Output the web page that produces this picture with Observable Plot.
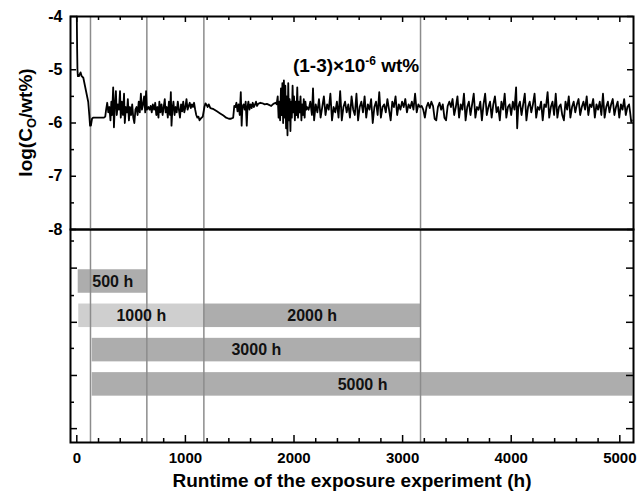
<!DOCTYPE html>
<html><head><meta charset="utf-8">
<script src="https://cdn.jsdelivr.net/npm/d3@7"></script>
<script src="https://cdn.jsdelivr.net/npm/@observablehq/plot@0.6"></script>
<style>
body{margin:0;background:#fff;}
#chart{position:relative;width:638px;height:494px;}
#chart svg{position:absolute;left:0;overflow:visible;}
</style>
</head><body><div id="chart"></div>
<script>
// log(C_O / wt%) readings: [runtime h, value]
const oxygenReadings = [
[0,-4.0],[3,-4.6],[6,-5.0],[10,-5.12],[20,-5.12],[35,-5.05],[45,-5.12],[60,-5.15],[75,-5.3],[90,-5.45],[105,-5.6],[115,-5.85],[122,-6.05],[130,-6.05],[140,-5.92],[150,-5.9],[200,-5.9],[250,-5.9],[262,-5.88],
[270,-5.75],[280,-5.62],[290,-5.8],[300,-5.7],[310,-5.95],[318,-5.6],[325,-5.85],[335,-5.33],[342,-6.08],[350,-5.7],[360,-5.4],[368,-5.85],[378,-5.65],[388,-5.75],[398,-5.4],[405,-5.9],[415,-5.6],[425,-5.85],[435,-5.45],[442,-6.0],[452,-5.7],[462,-5.8],[470,-5.55],[480,-5.95],[490,-5.7],[500,-5.85],[510,-5.65],[520,-5.9],[530,-6.0],[540,-5.75],[550,-5.7],[560,-5.85],[570,-5.6],[580,-5.8],[590,-5.45],[600,-5.75],[610,-5.65],[620,-5.5],[630,-5.8],[638,-5.4],[645,-5.75],
[660,-5.7],[670,-5.75],[680,-5.68],[690,-5.8],[700,-5.65],[712,-5.75],[722,-5.62],[732,-5.85],[742,-5.7],[752,-5.9],[760,-5.6],[770,-5.8],[780,-5.65],[790,-5.85],[800,-5.7],[810,-5.55],[818,-5.8],[828,-5.7],[838,-5.9],[848,-5.6],[858,-5.85],[866,-5.42],[872,-6.05],[880,-5.75],[890,-5.6],[900,-5.85],[910,-5.7],[920,-5.8],[930,-5.6],[940,-5.75],[950,-5.9],[960,-5.65],[970,-5.78],[980,-5.6],[990,-5.8],[1000,-5.7],[1010,-5.55],[1020,-5.75],[1030,-5.68],[1040,-5.62],[1050,-5.72],[1060,-5.65],[1070,-5.7],[1080,-5.62],[1090,-5.75],[1100,-5.85],[1110,-5.9],[1120,-5.88],[1130,-5.95],[1140,-5.92],[1150,-5.9],[1160,-5.88],
[1175,-5.7],[1185,-5.63],[1195,-5.66],[1205,-5.7],[1215,-5.65],[1230,-5.72],[1260,-5.74],[1290,-5.78],[1320,-5.82],[1350,-5.86],[1375,-5.9],[1400,-5.92],[1420,-5.92],[1440,-5.9],[1450,-5.68],[1460,-5.7],[1470,-5.62],[1480,-5.78],[1490,-5.65],[1500,-5.85],[1510,-5.42],[1518,-6.05],[1525,-5.7],[1535,-5.65],[1545,-5.75],[1555,-5.6],[1565,-6.05],[1572,-5.7],[1580,-5.6],[1590,-5.75],[1600,-5.65],[1610,-5.72],[1620,-5.62],[1630,-5.7],[1640,-5.66],[1650,-5.6],[1660,-5.68],[1670,-5.64],
[1690,-5.62],[1710,-5.63],[1730,-5.65],[1750,-5.64],[1770,-5.66],[1790,-5.68],[1810,-5.64],[1830,-5.62],[1840,-5.65],
[1850,-5.5],[1858,-5.9],[1865,-5.6],[1872,-5.95],[1880,-5.35],[1887,-5.85],[1893,-5.25],[1900,-6.0],[1907,-5.2],[1914,-5.9],[1920,-5.3],[1927,-6.1],[1933,-5.5],[1940,-6.23],[1947,-5.25],[1953,-5.95],[1960,-5.55],[1967,-6.15],[1973,-5.6],[1980,-5.9],[1987,-5.3],[1993,-5.8],[2000,-5.5],[2008,-5.95],[2015,-5.6],[2022,-5.85],[2030,-5.33],[2037,-5.9],[2045,-5.6],[2052,-5.8],[2060,-5.5],[2068,-5.95],[2075,-5.65],[2083,-5.85],[2090,-5.55],[2098,-5.9],[2105,-5.6],[2113,-5.75],[2120,-5.7],
[2135,-5.75],[2150,-5.6],[2165,-5.85],[2175,-5.35],[2185,-5.95],[2200,-5.65],[2215,-5.8],[2230,-5.55],[2245,-5.9],[2260,-5.7],[2275,-5.5],[2290,-5.85],[2305,-5.65],[2320,-5.75],[2335,-5.45],[2350,-5.95],[2365,-5.7],[2380,-5.8],[2395,-5.6],[2410,-5.9],[2425,-5.4],[2440,-5.95],[2455,-5.7],[2470,-5.6],[2485,-5.8],[2500,-5.65],[2515,-5.9],[2530,-5.5],[2545,-5.75],[2560,-5.85],[2575,-5.45],[2590,-5.95],[2605,-5.7],[2620,-5.6],[2635,-5.8],[2650,-5.5],[2665,-5.9],[2680,-5.65],[2695,-5.75],[2710,-5.55],[2725,-6.0],[2740,-5.7],[2755,-5.6],[2770,-5.85],[2785,-5.42],[2800,-5.9],[2815,-5.7],[2830,-5.65],[2845,-5.8],[2860,-5.55],[2875,-5.75],[2890,-5.95],[2905,-5.6],[2920,-5.7],[2935,-5.5],[2950,-5.85],[2965,-5.65],[2980,-5.75],[2995,-5.6],[3010,-5.7],[3025,-5.55],[3040,-5.8],[3055,-5.65],[3070,-5.72],[3085,-5.6],[3100,-5.75],[3115,-5.45],[3130,-5.8],[3145,-5.65],[3160,-5.7],
[3175,-5.68],[3190,-5.75],[3205,-5.9],[3220,-5.7],[3235,-5.62],[3250,-5.72],[3265,-5.6],[3280,-5.68],[3295,-5.92],[3310,-5.95],[3325,-5.7],[3340,-5.62],[3355,-5.75],[3370,-5.65],[3385,-5.9],[3400,-5.95],[3415,-5.68],[3430,-5.6],[3445,-5.7],[3460,-5.55],[3475,-5.85],[3490,-5.7],
[3505,-5.5],[3520,-5.9],[3535,-5.65],[3550,-5.75],[3565,-5.45],[3580,-5.95],[3595,-5.7],[3610,-5.6],[3625,-5.85],[3640,-5.65],[3655,-5.45],[3670,-5.9],[3685,-5.7],[3700,-5.75],[3715,-5.6],[3730,-5.95],[3745,-5.65],[3760,-5.45],[3775,-5.85],[3790,-5.7],[3805,-5.6],[3820,-5.9],[3835,-5.65],[3850,-5.5],[3865,-5.8],[3880,-5.7],[3895,-5.95],[3910,-5.6],[3925,-5.75],[3940,-5.45],[3955,-5.9],[3970,-5.7],[3985,-5.65],[4000,-5.85],[4015,-5.6],[4030,-5.75],[4045,-5.33],[4055,-6.1],[4065,-5.7],[4080,-5.6],[4095,-5.85],[4110,-5.65],[4125,-5.45],[4140,-5.95],[4155,-5.7],[4170,-5.6],[4185,-5.8],[4200,-5.65],[4215,-5.45],[4230,-5.9],[4245,-5.7],[4260,-5.75],[4275,-5.6],[4290,-5.95],[4305,-5.65],[4320,-5.7],[4335,-5.42],[4350,-5.9],[4365,-5.7],
[4380,-5.6],[4395,-5.85],[4410,-5.45],[4425,-5.9],[4440,-5.7],[4455,-5.65],[4470,-5.85],[4485,-5.95],[4500,-5.6],[4515,-5.75],[4530,-5.5],[4545,-5.9],[4560,-5.7],[4575,-5.6],[4590,-5.8],[4605,-5.65],[4620,-5.55],[4635,-5.85],[4650,-5.7],[4665,-5.6],[4680,-5.75],[4695,-5.5],[4710,-5.85],[4725,-5.65],[4740,-5.7],[4755,-5.55],[4770,-5.9],[4785,-5.65],[4800,-5.75],[4815,-5.6],[4830,-5.85],[4845,-5.45],[4860,-5.9],[4875,-5.7],[4890,-5.6],[4905,-5.8],[4920,-5.65],[4935,-5.55],[4950,-5.85],[4965,-5.7],[4980,-5.6],[4995,-5.9],[5010,-5.65],[5025,-5.75],[5040,-5.55],[5055,-5.85],[5070,-5.7],[5085,-5.65],[5095,-5.8],[5105,-5.98],[5110,-5.95]
];
const sessionBoundaries = [126, 645, 1170, 3165];
const experiments = [
  {label: "500 h", start: 13, end: 648, row: 1},
  {label: "1000 h", start: 18, end: 1170, row: 2},
  {label: "2000 h", start: 1170, end: 3165, row: 2},
  {label: "3000 h", start: 142, end: 3165, row: 3},
  {label: "5000 h", start: 142, end: 5120, row: 4}
];
const barLabels = experiments.map(d => d.label);
const xMajorTicks = [0, 1000, 2000, 3000, 4000, 5000];
const xMinorTicks = [200,400,600,800,1200,1400,1600,1800,2200,2400,2600,2800,3200,3400,3600,3800,4200,4400,4600,4800];
const yMajorTicks = [-4, -5, -6, -7, -8];
const yMinorTicks = [-4.5, -5.5, -6.5, -7.5];
const lowerMajorTicks = [0.61, 2.19, 3.74, 5.29];
const lowerMinorTicks = [-0.18, 1.41, 2.95, 4.52];
const xLabel = "Runtime of the exposure experiment (h)";
const annotation = {x: 1995, y: -5.05, main: "(1-3)×10", sup: "-6", tail: " wt%"};

const FONT = "'Liberation Sans', Arial, sans-serif";
const W = 638, ML = 70, MR = 5;
const FW = W - ML - MR;
const xDomain = [-58, 5126];
const grayLine = "#8c8c8c";
const baseStyle = {fontFamily: FONT, fontWeight: "bold", fontSize: "15px", color: "#000", background: "transparent", overflow: "visible"};

const topH = 230, topMT = 16, topMB = 1;
const topFH = topH - topMT - topMB;
const topPlot = Plot.plot({
  width: W, height: topH, marginTop: topMT, marginBottom: topMB, marginLeft: ML, marginRight: MR,
  style: baseStyle,
  x: {domain: xDomain, axis: null},
  y: {domain: [-8, -4]},
  marks: [
    Plot.ruleX(sessionBoundaries, {stroke: grayLine, strokeWidth: 1.5}),
    Plot.line(oxygenReadings, {x: d => d[0], y: d => d[1], stroke: "#000", strokeWidth: 1.8}),
    Plot.ruleY(yMajorTicks, {insetRight: FW - 6, stroke: "#000", strokeWidth: 1.5}),
    Plot.ruleY(yMinorTicks, {insetRight: FW - 4, stroke: "#000", strokeWidth: 1.5}),
    Plot.ruleY(yMajorTicks, {insetLeft: FW - 6, stroke: "#000", strokeWidth: 1.5}),
    Plot.ruleY(yMinorTicks, {insetLeft: FW - 4, stroke: "#000", strokeWidth: 1.5}),
    Plot.ruleX(xMajorTicks, {insetBottom: topFH - 6, stroke: "#000", strokeWidth: 1.5}),
    Plot.ruleX(xMinorTicks, {insetBottom: topFH - 4, stroke: "#000", strokeWidth: 1.5}),
    Plot.axisY({ticks: yMajorTicks, tickSize: 0, tickPadding: 8, tickFormat: d => String(d), fontSize: 16, fontWeight: "bold", label: null}),
    Plot.frame({stroke: "#000", strokeWidth: 2})
  ]
});

const botH = 265, botMB = 52;
const botFH = botH - botMB;
const bottomPlot = Plot.plot({
  width: W, height: botH, marginTop: 0, marginBottom: botMB, marginLeft: ML, marginRight: MR,
  style: baseStyle,
  x: {domain: xDomain},
  y: {domain: [-0.516, 5.694], reverse: true, axis: null},
  color: {domain: barLabels, range: ["#adadad", "#cfcfcf", "#adadad", "#adadad", "#adadad"]},
  marks: [
    Plot.rectX(experiments, {x1: "start", x2: "end", y1: d => d.row - 0.343, y2: d => d.row + 0.343, fill: "label"}),
    Plot.ruleX(sessionBoundaries, {stroke: grayLine, strokeWidth: 1.5}),
    Plot.text(experiments, {x: d => (d.start + d.end) / 2, y: "row", text: "label", fontSize: 16, fontWeight: "bold", fill: "#111"}),
    Plot.ruleY(lowerMajorTicks, {insetRight: FW - 7, stroke: "#000", strokeWidth: 1.5}),
    Plot.ruleY(lowerMinorTicks, {insetRight: FW - 4, stroke: "#000", strokeWidth: 1.5}),
    Plot.ruleY(lowerMajorTicks, {insetLeft: FW - 7, stroke: "#000", strokeWidth: 1.5}),
    Plot.ruleY(lowerMinorTicks, {insetLeft: FW - 4, stroke: "#000", strokeWidth: 1.5}),
    Plot.ruleX(xMajorTicks, {insetTop: botFH - 7, stroke: "#000", strokeWidth: 1.5}),
    Plot.ruleX(xMinorTicks, {insetTop: botFH - 4, stroke: "#000", strokeWidth: 1.5}),
    Plot.axisX({ticks: xMajorTicks, tickSize: 0, tickPadding: 10, tickFormat: d => String(d), fontSize: 15, fontWeight: "bold", label: null}),
    Plot.text([xLabel], {frameAnchor: "bottom", dy: 44, fontSize: 19, fontWeight: "bold"}),
    Plot.frame({stroke: "#000", strokeWidth: 2})
  ]
});

const chart = document.getElementById("chart");
topPlot.style.top = "0px";
bottomPlot.style.top = (topMT + topFH) + "px";
chart.appendChild(bottomPlot);
chart.appendChild(topPlot);

// annotation with superscript
const sx = topPlot.scale("x"), sy = topPlot.scale("y");
const ann = d3.select(topPlot).append("text")
  .attr("x", sx.apply(annotation.x)).attr("y", sy.apply(annotation.y))
  .attr("text-anchor", "start")
  .attr("font-family", FONT).attr("font-weight", "bold").attr("font-size", 19).attr("fill", "#000");
ann.append("tspan").text(annotation.main);
ann.append("tspan").attr("font-size", 12).attr("dy", -7).text(annotation.sup);
ann.append("tspan").attr("dy", 7).text(annotation.tail);

// y axis title with subscript
const yl = d3.select(topPlot).append("text")
  .attr("transform", `translate(25.5,${topMT + topFH / 2}) rotate(-90)`)
  .attr("text-anchor", "middle").attr("dy", "0.36em")
  .attr("font-family", FONT).attr("font-weight", "bold").attr("font-size", 19).attr("fill", "#000");
yl.append("tspan").text("log(C");
yl.append("tspan").attr("font-size", 13).attr("dy", 4).text("O");
yl.append("tspan").attr("dy", -4).text("/wt%)");
</script>
</body></html>
